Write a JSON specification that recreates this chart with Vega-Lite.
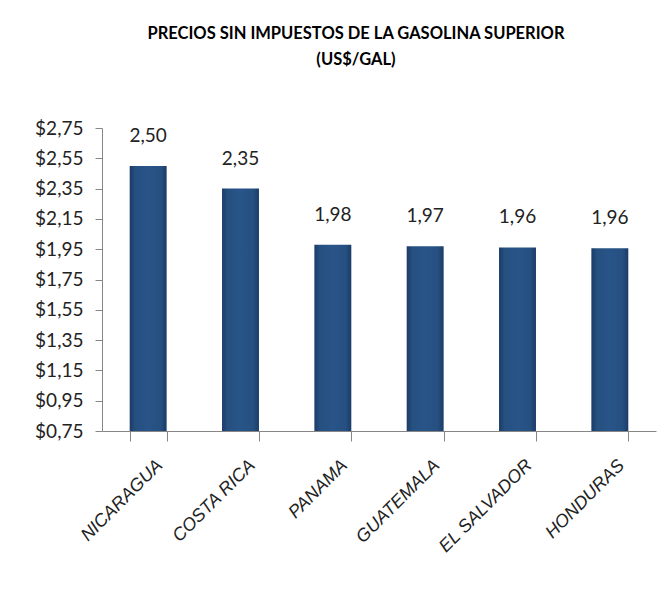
{
  "$schema": "https://vega.github.io/schema/vega-lite/v6.json",
  "autosize": {"type": "none"},
  "width": 554,
  "height": 303,
  "padding": {"left": 102, "top": 128, "right": 12, "bottom": 166},
  "background": "white",
  "title": {
    "text": ["PRECIOS SIN IMPUESTOS DE LA GASOLINA SUPERIOR", "(US$/GAL)"],
    "font": "Lato",
    "fontSize": 16.5,
    "fontWeight": "bold",
    "color": "#000000",
    "lineHeight": 26,
    "anchor": "middle",
    "dx": -23,
    "offset": 51
  },
  "data": {
    "values": [
      {"pais": "NICARAGUA", "precio": 2.50},
      {"pais": "COSTA RICA", "precio": 2.35},
      {"pais": "PANAMA", "precio": 1.98},
      {"pais": "GUATEMALA", "precio": 1.97},
      {"pais": "EL SALVADOR", "precio": 1.962},
      {"pais": "HONDURAS", "precio": 1.957}
    ]
  },
  "encoding": {
    "x": {
      "field": "pais",
      "type": "nominal",
      "sort": null,
      "scale": {"paddingInner": 0.6, "paddingOuter": 0.3},
      "axis": {
        "title": null,
        "zindex": 1,
        "labelAngle": -45,
        "labelFont": "Liberation Sans",
        "labelFontSize": 18,
        "labelFontStyle": "italic",
        "labelColor": "#222222",
        "labelPadding": 15,
        "labelOffset": 5,
        "domainColor": "#868686",
        "tickColor": "#868686",
        "tickSize": 10,
        "tickBand": "extent",
        "grid": false
      }
    },
    "y": {
      "field": "precio",
      "type": "quantitative",
      "scale": {"domain": [0.75, 2.75], "nice": false, "zero": false},
      "axis": {
        "title": null,
        "zindex": 1,
        "values": [0.75, 0.95, 1.15, 1.35, 1.55, 1.75, 1.95, 2.15, 2.35, 2.55, 2.75],
        "format": "$.2f",
        "labelFont": "Lato",
        "labelFontSize": 19,
        "labelColor": "#222222",
        "labelPadding": 12,
        "domainColor": "#868686",
        "tickColor": "#868686",
        "tickSize": 7,
        "grid": false
      }
    }
  },
  "layer": [
    {
      "mark": {
        "type": "bar",
        "color": {
          "gradient": "linear",
          "x1": 0, "x2": 1, "y1": 0, "y2": 0,
          "stops": [
            {"offset": 0, "color": "#1b3b68"},
            {"offset": 0.15, "color": "#25507f"},
            {"offset": 0.5, "color": "#285489"},
            {"offset": 0.85, "color": "#25507f"},
            {"offset": 1, "color": "#1b3b68"}
          ]
        }
      },
      "encoding": {
        "y2": {"datum": 0.75}
      }
    },
    {
      "mark": {
        "type": "text",
        "baseline": "middle",
        "dy": -30,
        "font": "Lato",
        "fontSize": 19,
        "color": "#222222"
      },
      "encoding": {
        "text": {"field": "precio", "type": "quantitative", "format": ".2f"}
      }
    }
  ],
  "config": {
    "view": {"stroke": null},
    "locale": {
      "number": {"decimal": ",", "thousands": ".", "grouping": [3], "currency": ["$", ""]}
    }
  }
}
